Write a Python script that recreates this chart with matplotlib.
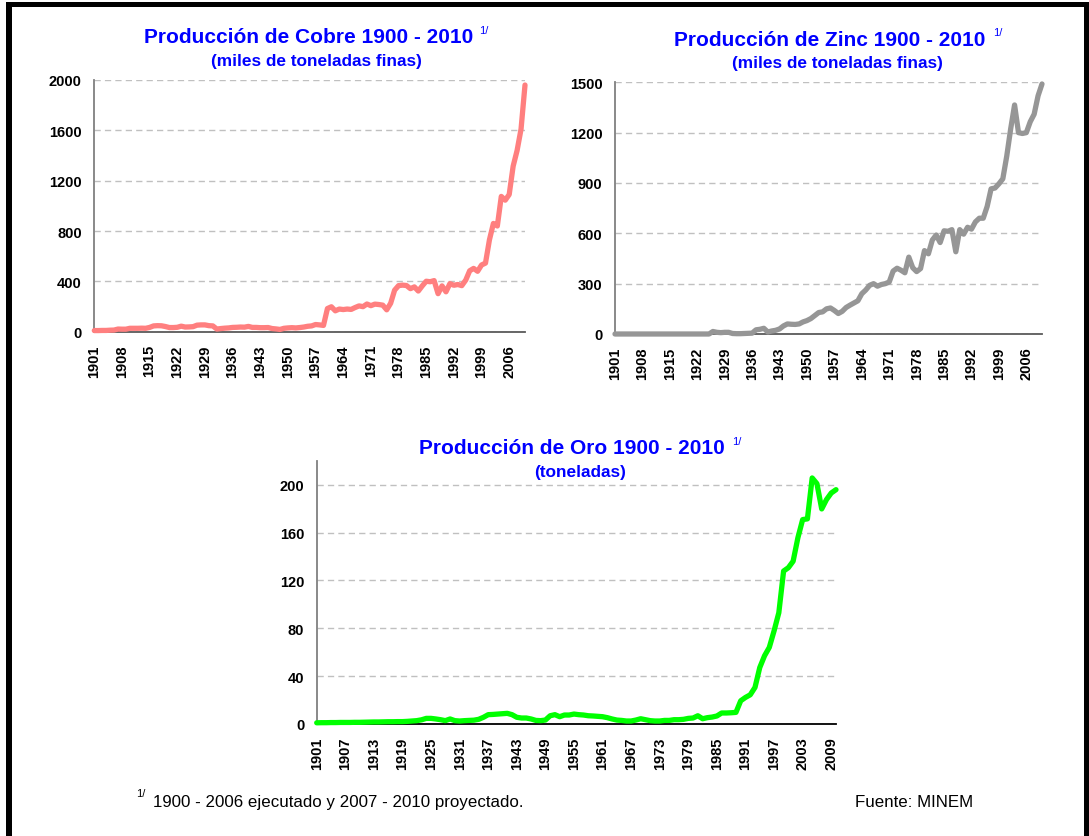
import matplotlib
matplotlib.use("Agg")
import matplotlib.pyplot as plt
from matplotlib.patches import Rectangle

plt.rcParams['font.family'] = ['Liberation Sans', 'DejaVu Sans']

W, H = 1089, 837

years = list(range(1901, 2011))

cobre = [9, 9, 10, 10, 12, 13, 21, 20, 20, 27,
         27, 27, 28, 27, 34, 46, 48, 47, 41, 33,
         33, 35, 44, 37, 38, 40, 52, 54, 54, 48,
         46, 21, 25, 28, 30, 34, 35, 37, 36, 42,
         34, 34, 32, 32, 33, 25, 22, 18, 27, 30,
         32, 30, 33, 37, 43, 46, 57, 54, 50, 184,
         198, 166, 180, 176, 180, 177, 192, 205, 199, 220,
         207, 219, 216, 211, 174, 226, 330, 366, 370, 367,
         342, 356, 323, 364, 401, 397, 406, 302, 364, 317,
         382, 369, 375, 366, 410, 484, 503, 480, 530, 545,
         730, 860, 840, 1075, 1045, 1090, 1315, 1440, 1610, 1960]

zinc = [0] * 25 + [
         15, 10, 8, 10, 10, 3, 2, 2, 3, 4,
         5, 25, 28, 34, 12, 18, 22, 30, 48, 60,
         58, 57, 60, 72, 80, 92, 110, 128, 132, 150,
         155, 140, 122, 135, 158, 172, 185, 198, 240, 262,
         290, 300, 285, 295, 300, 310, 375, 392, 380, 365,
         458, 395, 372, 390, 497, 478, 560, 590, 545, 615,
         612, 622, 490, 622, 595, 636, 625, 668, 690, 690,
         760, 865, 870, 895, 925, 1060, 1222, 1365, 1200, 1195,
         1200, 1265, 1310, 1420, 1490]

oro = [1.0, 1.1, 1.1, 1.2, 1.2, 1.3, 1.3, 1.3, 1.4, 1.4,
       1.5, 1.6, 1.7, 1.7, 1.8, 1.9, 1.9, 2.0, 2.0, 2.2,
       2.5, 2.8, 3.5, 4.7, 4.7, 4.2, 3.6, 2.8, 4.2, 2.8,
       2.5, 2.8, 3.0, 3.2, 3.9, 5.6, 7.8, 8.0, 8.3, 8.6,
       8.9, 7.8, 5.6, 5.0, 5.0, 4.2, 3.0, 2.8, 3.3, 6.9,
       7.8, 6.1, 7.5, 7.5, 8.3, 7.8, 7.5, 6.9, 6.7, 6.4,
       6.1, 5.3, 4.2, 3.3, 3.0, 2.5, 2.5, 3.3, 4.4, 3.6,
       2.8, 2.5, 2.5, 3.0, 3.0, 3.6, 3.6, 3.9, 4.7, 5.0,
       6.9, 4.4, 5.3, 5.8, 6.7, 9.2, 9.2, 9.4, 9.7, 19.4,
       22.2, 24.4, 30.6, 47.2, 57.0, 64.0, 77.8, 93.0, 127.8, 130.6,
       136.0, 155.6, 170.8, 171.4, 205.6, 200.8, 179.7, 187.5, 193.0, 195.8]

ticks_7 = list(range(1901, 2007, 7))
ticks_6 = list(range(1901, 2010, 6))


def box(l, t, r, b):
    return [l / W, 1 - b / H, (r - l) / W, (b - t) / H]


def px(x, y):
    return x / W, 1 - y / H


fig = plt.figure(figsize=(W / 100, H / 100), dpi=100)

charts = [
    dict(rect=box(94.3, 81, 525, 332.7), data=cobre, color='#FF7F7F',
         ymax=2000, ystep=400, xt=ticks_7, bottom='#5A5A5A'),
    dict(rect=box(615, 83.3, 1042, 335), data=zinc, color='#969696',
         ymax=1500, ystep=300, xt=ticks_7, bottom='#5A5A5A'),
    dict(rect=box(316.7, 461.7, 836, 725), data=oro, color='#00FF00',
         ymax=220, ystep=40, xt=ticks_6, bottom='#000000'),
]

for c in charts:
    ax = fig.add_axes(c['rect'])
    ax.plot(years, c['data'], color=c['color'], lw=3.8,
            solid_joinstyle='round', solid_capstyle='round', clip_on=False, zorder=3)
    ax.set_xlim(1901, 2010)
    ax.set_ylim(0, c['ymax'])
    yt = list(range(0, c['ymax'] + 1, c['ystep']))
    ax.set_yticks(yt)
    ax.set_xticks(c['xt'])
    ax.set_xticklabels([str(t) for t in c['xt']], rotation=90)
    ax.tick_params(length=0, labelsize=10.5, pad=9)
    for lab in ax.get_xticklabels() + ax.get_yticklabels():
        lab.set_fontweight('bold')
    ax.set_axisbelow(True)
    ax.grid(axis='y', color='#C0C0C0', lw=1.0, linestyle=(0, (4.5, 3)))
    ax.grid(axis='x', visible=False)
    for s in ['top', 'right']:
        ax.spines[s].set_visible(False)
    ax.spines['left'].set_color('#808080')
    ax.spines['left'].set_linewidth(1.3)
    ax.spines['bottom'].set_color(c['bottom'])
    ax.spines['bottom'].set_linewidth(1.3)

blue = '#0000FF'
titles = [
    ('Producción de Cobre 1900 - 2010', 144.3, 42.7, 479.3, 31,
     '(miles de toneladas finas)', 316, 65.7),
    ('Producción de Zinc 1900 - 2010', 674, 46, 992.7, 33,
     '(miles de toneladas finas)', 837.5, 68.3),
    ('Producción de Oro 1900 - 2010', 419.3, 454, 731.7, 442,
     '(toneladas)', 580, 477.3),
]
for t, tx, ty, sx, sy, sub, ux, uy in titles:
    fig.text(*px(tx, ty), t, color=blue, fontsize=15, fontweight='bold',
             ha='left', va='baseline')
    fig.text(*px(sx, sy), '1/', color=blue, fontsize=8, ha='left', va='center')
    fig.text(*px(ux, uy), sub, color=blue, fontsize=12.4, fontweight='bold',
             ha='center', va='baseline')

fig.text(*px(136, 794), '1/', fontsize=8, ha='left', va='center')
fig.text(*px(153.3, 806.7), '1900 - 2006 ejecutado y 2007 - 2010 proyectado.',
         fontsize=12.2, ha='left', va='baseline')
fig.text(*px(855, 807.3), 'Fuente: MINEM', fontsize=12.2, ha='left', va='baseline')

# marco negro
for l, t, r, b in [(6, 3, 12, H), (6, 3, W, 7.5), (1084, 3, W, H)]:
    fig.add_artist(Rectangle(px(l, b), (r - l) / W, (b - t) / H,
                             transform=fig.transFigure, color='black', lw=0))

fig.savefig('out.png', dpi=100)
